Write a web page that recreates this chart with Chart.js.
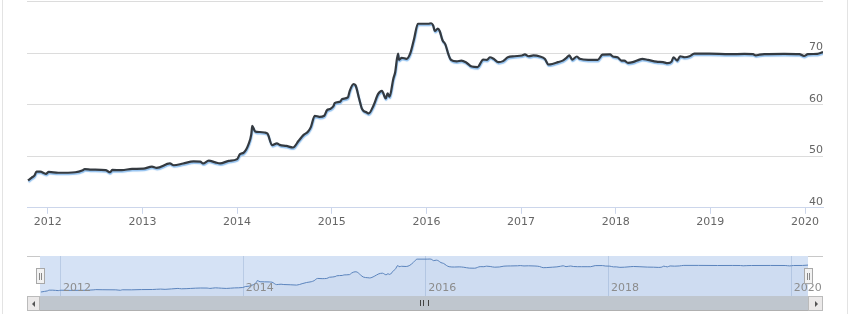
<!DOCTYPE html>
<html>
<head>
<meta charset="utf-8">
<script src="https://cdn.jsdelivr.net/npm/chart.js@4.4.1/dist/chart.umd.min.js"></script>
<style>
  html, body { margin: 0; padding: 0; background: #fff; }
  body { width: 850px; height: 314px; position: relative; overflow: hidden; }
  #frame { position: absolute; left: 2px; top: 0; width: 844px; height: 314px;
           border-left: 1px solid #e3e3e3; border-right: 1px solid #e3e3e3; }
  #mainWrap { position: absolute; left: 0; top: -5px; width: 850px; height: 236px; }
  #navWrap { position: absolute; left: 27px; top: 256px; width: 796px; height: 40px; }
  #navTop { position: absolute; left: 27px; top: 256px; width: 796px; border-top: 1px solid #c8c8c8; }
  .handle { position: absolute; top: 268px; width: 7px; height: 14px; background: #f2f2f2;
            border: 1px solid #a8a8a8; }
  .handle::before, .handle::after { content: ''; position: absolute; top: 4px; width: 1px; height: 7px; background: #888; }
  .handle::before { left: 2px; }
  .handle::after { left: 4px; }
  #scroll { position: absolute; left: 27px; top: 296px; width: 796px; height: 14px;
            background: #bfc6ce; border-bottom: 1px solid #b0b0b0; }
  .sbtn { position: absolute; top: 0; height: 13px; background: #ebe9e9; border: 1px solid #bbb; }
  .arrow { position: absolute; top: 4px; width: 0; height: 0; border-top: 3px solid transparent; border-bottom: 3px solid transparent; }
  #grip { position: absolute; left: 393px; top: 4px; width: 7px; height: 6px;
          border-left: 1px solid #444; border-right: 1px solid #444; }
  #grip::after { content: ''; position: absolute; left: 2px; top: 0; width: 1px; height: 6px; background: #444; }
</style>
</head>
<body>
<div id="frame"></div>
<div id="mainWrap"><canvas id="mainChart"></canvas></div>
<div id="navTop"></div>
<div id="navWrap"><canvas id="navChart"></canvas></div>
<div class="handle" style="left:36px"></div>
<div class="handle" style="left:804px"></div>
<div id="scroll">
  <div class="sbtn" style="left:0;width:11px;"><div class="arrow" style="left:4px;border-right:3px solid #555;"></div></div>
  <div id="grip"></div>
  <div class="sbtn" style="left:781px;width:13px;"><div class="arrow" style="left:6px;border-left:3px solid #555;"></div></div>
</div>
<script>
// Data (decimal years)
const dates = [
  2011.79, 2011.83, 2011.86, 2011.88, 2011.92, 2011.98, 2012.01, 2012.11, 2012.29, 2012.37,
  2012.39, 2012.46, 2012.61, 2012.66, 2012.68, 2012.78, 2012.89, 2013.01, 2013.10, 2013.15,
  2013.29, 2013.33, 2013.43, 2013.54, 2013.61, 2013.64, 2013.70, 2013.77, 2013.82, 2013.91,
  2014.00, 2014.03, 2014.07, 2014.12, 2014.15, 2014.16, 2014.19, 2014.24, 2014.29, 2014.32,
  2014.37, 2014.42, 2014.45, 2014.52, 2014.59, 2014.65, 2014.70, 2014.75, 2014.78, 2014.82,
  2014.87, 2014.92, 2014.95, 2014.98, 2015.02, 2015.03, 2015.09, 2015.11, 2015.17, 2015.19,
  2015.23, 2015.25, 2015.29, 2015.32, 2015.37, 2015.39, 2015.44, 2015.49, 2015.53, 2015.57,
  2015.59, 2015.61, 2015.65, 2015.67, 2015.70, 2015.71, 2015.74, 2015.79, 2015.83, 2015.87,
  2015.91, 2016.02, 2016.05, 2016.07, 2016.09, 2016.12, 2016.14, 2016.17, 2016.20, 2016.23,
  2016.26, 2016.32, 2016.37, 2016.42, 2016.48, 2016.54, 2016.60, 2016.64, 2016.67, 2016.71,
  2016.76, 2016.81, 2016.86, 2016.93, 2017.01, 2017.04, 2017.08, 2017.13, 2017.20, 2017.25,
  2017.29, 2017.33, 2017.39, 2017.44, 2017.48, 2017.51, 2017.54, 2017.59, 2017.62, 2017.71,
  2017.78, 2017.81, 2017.86, 2017.94, 2017.97, 2018.02, 2018.06, 2018.09, 2018.13, 2018.18,
  2018.25, 2018.28, 2018.34, 2018.43, 2018.50, 2018.55, 2018.59, 2018.61, 2018.65, 2018.68,
  2018.73, 2018.78, 2018.83, 2018.99, 2019.20, 2019.36, 2019.45, 2019.48, 2019.52, 2019.57,
  2019.78, 2019.94, 2019.99, 2020.03, 2020.13, 2020.19
];
const values = [
  45.3, 45.85, 46.3, 47.0, 47.0, 46.6, 46.95, 46.8, 46.9, 47.3,
  47.5, 47.4, 47.3, 46.9, 47.35, 47.3, 47.55, 47.6, 48.0, 47.75,
  48.6, 48.25, 48.6, 49.0, 48.95, 48.6, 49.15, 48.8, 48.6, 49.1,
  49.45, 50.4, 50.7, 52.3, 54.3, 55.9, 54.8, 54.7, 54.6, 54.4,
  52.15, 52.5, 52.2, 52.0, 51.7, 53.0, 54.1, 54.8, 55.7, 57.85,
  57.65, 57.85, 58.95, 59.15, 59.8, 60.3, 60.6, 61.1, 61.4, 62.7,
  64.0, 63.8, 61.1, 59.15, 58.5, 58.3, 59.8, 62.1, 62.7, 61.2,
  62.2, 61.55, 65.0, 66.3, 69.9, 68.7, 69.1, 68.9, 70.0, 72.8,
  75.7, 75.7, 75.8, 75.4, 74.3, 74.75, 74.3, 72.5, 71.7, 69.9,
  68.7, 68.4, 68.55, 68.2, 67.4, 67.3, 68.75, 68.7, 69.2, 68.9,
  68.25, 68.45, 69.2, 69.4, 69.55, 69.75, 69.4, 69.55, 69.35, 68.9,
  67.8, 67.9, 68.25, 68.55, 69.1, 69.55, 68.75, 69.35, 68.9, 68.7,
  68.7, 68.7, 69.7, 69.75, 69.35, 69.2, 68.55, 68.55, 68.1, 68.25,
  68.75, 68.9, 68.7, 68.35, 68.25, 68.05, 68.35, 69.2, 68.55, 69.4,
  69.2, 69.4, 69.9, 69.9, 69.8, 69.85, 69.8, 69.55, 69.7, 69.8,
  69.85, 69.8, 69.45, 69.8, 69.85, 70.2
];
const mainTickYears = [2012, 2013, 2014, 2015, 2016, 2017, 2018, 2019, 2020];
const navTickYears = [2012, 2014, 2016, 2018, 2020];
const yTickValues = [40, 50, 60, 70, 80];

const xMin = 2011.78;
const xMax = 2020.19;
const points = dates.map((d, i) => ({ x: d, y: values[i] }));

const labelFont = { family: 'DejaVu Sans', size: 11 };

// light blue shadow under the dark main line
const lineShadow = {
    id: 'lineShadow',
    beforeDatasetDraw(chart) {
        const c = chart.ctx;
        c.save();
        c.shadowColor = 'rgba(124, 181, 236, 0.85)';
        c.shadowOffsetX = 0.5;
        c.shadowOffsetY = 1.5;
        c.shadowBlur = 1;
    },
    afterDatasetDraw(chart) {
        chart.ctx.restore();
    }
};

new Chart(document.getElementById('mainChart'), {
    type: 'line',
    data: {
        datasets: [{
            data: points,
            borderColor: '#343a40',
            borderWidth: 2.2,
            pointRadius: 0,
            cubicInterpolationMode: 'monotone',
            fill: false
        }]
    },
    options: {
        responsive: true,
        maintainAspectRatio: false,
        animation: false,
        layout: { padding: { left: 27, right: 27, top: 0, bottom: 0 } },
        plugins: { legend: { display: false }, tooltip: { enabled: false } },
        scales: {
            x: {
                type: 'linear',
                min: xMin,
                max: xMax,
                afterBuildTicks: (scale) => { scale.ticks = mainTickYears.map(v => ({ value: v })); },
                ticks: {
                    autoSkip: false,
                    maxRotation: 0,
                    padding: 2,
                    color: '#666',
                    font: labelFont,
                    callback: (v) => String(v)
                },
                grid: {
                    drawOnChartArea: false,
                    drawTicks: true,
                    tickLength: 6,
                    tickColor: '#ccd6eb'
                },
                border: { color: '#ccd6eb' }
            },
            y: {
                position: 'right',
                min: 40,
                max: 80,
                afterBuildTicks: (scale) => { scale.ticks = yTickValues.map(v => ({ value: v })); },
                ticks: {
                    mirror: true,
                    padding: 0,
                    labelOffset: -6,
                    color: '#666',
                    font: labelFont,
                    callback: (v) => (v === 80 ? '' : String(v))
                },
                grid: { color: '#dcdcdc', drawTicks: false },
                border: { display: false }
            }
        }
    },
    plugins: [lineShadow]
});

// navigator: mask, grid lines and labels drawn from its own x scale
const navDecor = {
    id: 'navDecor',
    beforeDraw(chart) {
        const { ctx, chartArea: a, scales: { x } } = chart;
        const l = x.getPixelForValue(xMin);
        const r = x.getPixelForValue(xMax);
        ctx.save();
        ctx.fillStyle = '#d5e2f5';
        ctx.fillRect(l, a.top, r - l, a.bottom - a.top);
        ctx.strokeStyle = 'rgba(150, 175, 210, 0.45)';
        ctx.lineWidth = 1;
        navTickYears.forEach(v => {
            const px = Math.round(x.getPixelForValue(v)) + 0.5;
            ctx.beginPath();
            ctx.moveTo(px, a.top);
            ctx.lineTo(px, a.bottom);
            ctx.stroke();
        });
        ctx.restore();
    },
    afterDraw(chart) {
        const { ctx, chartArea: a, scales: { x } } = chart;
        ctx.save();
        ctx.fillStyle = '#8c8c8c';
        ctx.font = '11px "DejaVu Sans"';
        ctx.textBaseline = 'middle';
        ctx.textAlign = 'left';
        navTickYears.forEach(v => {
            ctx.fillText(String(v), x.getPixelForValue(v) + 3, a.bottom - 8);
        });
        ctx.restore();
    }
};

new Chart(document.getElementById('navChart'), {
    type: 'line',
    data: {
        datasets: [{
            data: points,
            borderColor: '#5b84bd',
            borderWidth: 1,
            backgroundColor: 'rgba(69, 114, 167, 0.05)',
            fill: 'start',
            pointRadius: 0,
            cubicInterpolationMode: 'monotone'
        }]
    },
    options: {
        responsive: true,
        maintainAspectRatio: false,
        animation: false,
        layout: { padding: { left: 13, right: 15, top: 0, bottom: 0 } },
        plugins: { legend: { display: false }, tooltip: { enabled: false } },
        scales: {
            x: { type: 'linear', min: xMin, max: xMax, display: false },
            y: { min: 41.6, max: 78.6, display: false }
        }
    },
    plugins: [navDecor]
});
</script>
</body>
</html>
